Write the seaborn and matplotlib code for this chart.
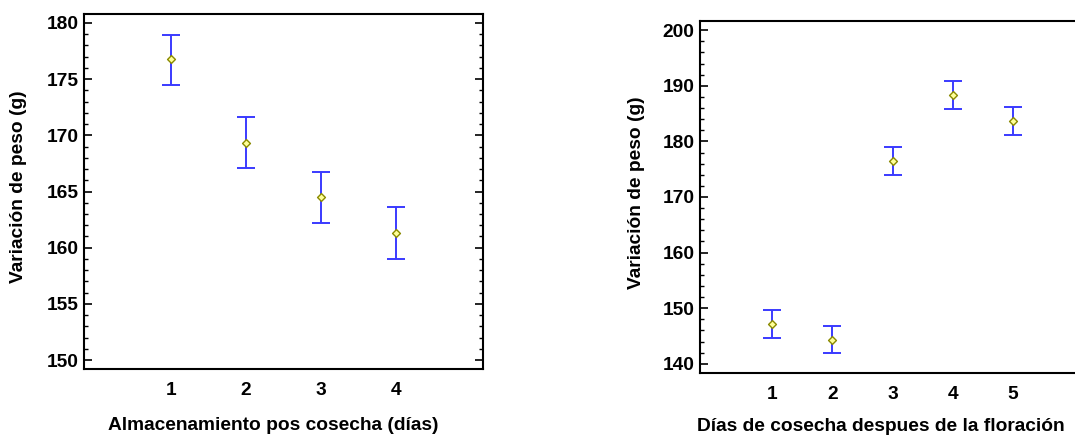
import matplotlib
matplotlib.use("Agg")
import matplotlib.pyplot as plt
import seaborn as sns
import pandas as pd
from matplotlib.ticker import MultipleLocator

# Data
left_cats = [1, 2, 3, 4]
left_means = [176.75, 169.35, 164.5, 161.3]
left_lower = [174.45, 167.05, 162.2, 159.0]
left_upper = [178.95, 171.65, 166.75, 163.6]

right_cats = [1, 2, 3, 4, 5]
right_means = [147.1, 144.3, 176.4, 188.3, 183.7]
right_lower = [144.6, 141.9, 173.9, 185.8, 181.1]
right_upper = [149.6, 146.8, 179.0, 190.8, 186.2]

left_xlabel = "Almacenamiento pos cosecha (días)"
right_xlabel = "Días de cosecha despues de la floración"
ylabel = "Variación de peso (g)"

sns.set_theme(style="white")
plt.rcParams['font.family'] = ['Liberation Sans', 'DejaVu Sans']
plt.rcParams['font.weight'] = 'bold'
plt.rcParams['text.color'] = 'black'
plt.rcParams['axes.labelcolor'] = 'black'
plt.rcParams['xtick.color'] = 'black'
plt.rcParams['ytick.color'] = 'black'

FS = 13.8

fig = plt.figure(figsize=(10.75, 4.36), dpi=100)
W, H = 1075, 436
ax1 = fig.add_axes([84 / W, (H - 369) / H, (483 - 84) / W, (369 - 14) / H])
ax2 = fig.add_axes([700 / W, (H - 373.3) / H, 385 / W, (373.3 - 20.7) / H])


def draw(ax, cats, means, lo, hi, xlabel, ylim, xlim, major, minor,
         xlab_pos, ylab_pos):
    df = pd.DataFrame({"x": cats, "m": means, "lo": lo, "hi": hi})
    ax.errorbar(df["x"], df["m"],
                yerr=[df["m"] - df["lo"], df["hi"] - df["m"]],
                fmt="none", ecolor="#3a3aff", elinewidth=1.4,
                capsize=6.5, capthick=1.4, zorder=2)
    sns.scatterplot(data=df, x="x", y="m", ax=ax, marker="D", s=16,
                    color="#ffff99", edgecolor="#8a8a00", linewidth=1.0,
                    zorder=3)
    ax.set_xlim(*xlim)
    ax.set_ylim(*ylim)
    ax.set_xticks(cats)
    ax.set_xticklabels([str(c) for c in cats])
    ax.yaxis.set_major_locator(MultipleLocator(major))
    ax.yaxis.set_minor_locator(MultipleLocator(minor))
    ax.tick_params(axis="y", which="major", direction="in", length=6,
                   width=1.2, left=True, right=True, labelsize=FS, pad=4,
                   color="black", labelcolor="black")
    ax.tick_params(axis="y", which="minor", direction="in", length=3,
                   width=1.0, left=True, right=True, color="black")
    ax.tick_params(axis="x", which="both", length=0, labelsize=FS, pad=9,
                   labelcolor="black")
    for lab in ax.get_xticklabels() + ax.get_yticklabels():
        lab.set_fontweight("bold")
    for sp in ax.spines.values():
        sp.set_color("black")
        sp.set_linewidth(1.5)
    ax.set_xlabel(xlabel, fontsize=FS, fontweight="bold", color="black")
    ax.set_ylabel(ylabel, fontsize=FS, fontweight="bold", color="black")
    ax.xaxis.label.set_va("center")
    ax.yaxis.label.set_va("center")
    ax.xaxis.set_label_coords(*xlab_pos)
    ax.yaxis.set_label_coords(*ylab_pos)
    ax.grid(False)


draw(ax1, left_cats, left_means, left_lower, left_upper, left_xlabel,
     (149.2, 180.8), (-0.15, 5.15), 5, 1, (0.474, -0.158), (-0.165, 0.514))
draw(ax2, right_cats, right_means, right_lower, right_upper, right_xlabel,
     (138.3, 201.7), (-0.2, 6.2), 10, 2, (0.470, -0.152), (-0.164, 0.513))

fig.savefig("out.png", dpi=100)
